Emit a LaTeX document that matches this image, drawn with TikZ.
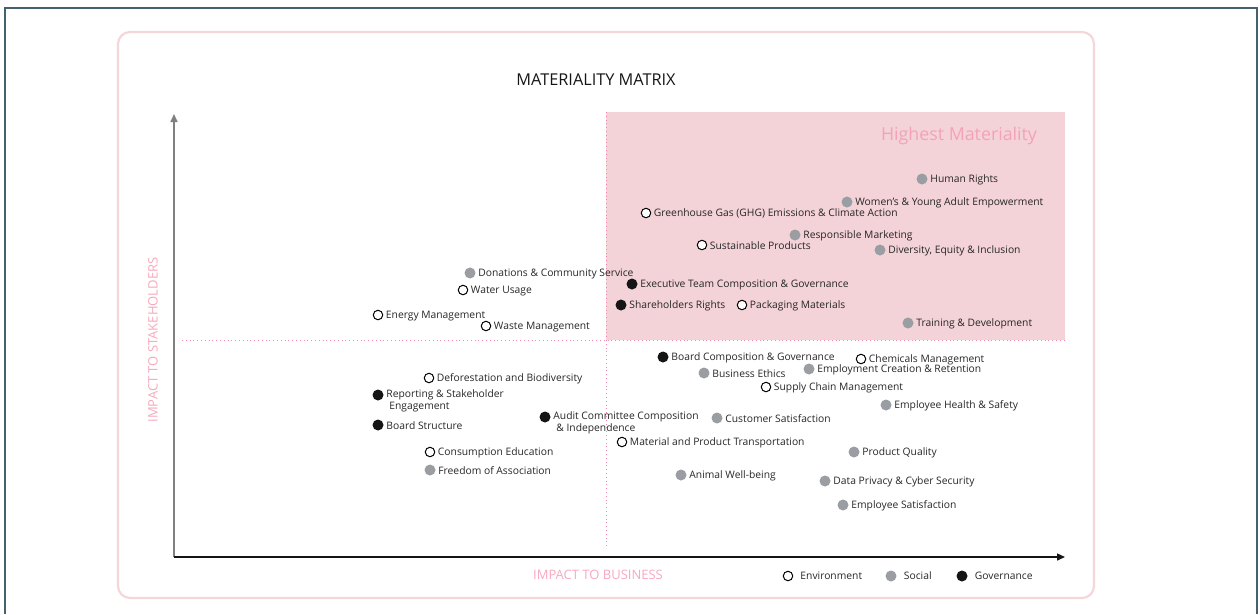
\documentclass[tikz,border=0pt]{standalone}
\usepackage{fontspec}
\setmainfont{Open Sans}
\usetikzlibrary{arrows.meta,positioning}

\definecolor{framegray}{HTML}{45616E}
\definecolor{framepink}{HTML}{F5D6DA}
\definecolor{zonepink}{HTML}{F3D3D7}
\definecolor{dotpink}{HTML}{F08AAE}
\definecolor{headpink}{HTML}{F4A2B8}
\definecolor{axispink}{HTML}{F7A8BE}
\definecolor{dotgray}{HTML}{9A9EA2}
\definecolor{dotblack}{HTML}{151515}
\definecolor{txtgray}{HTML}{262626}

\begin{document}
\begin{tikzpicture}[x=1pt,y=-1pt,
	txt/.style={font=\fontsize{10.3}{12}\selectfont, text=txtgray, inner sep=0pt},
	envdot/.style={circle, inner sep=0pt, minimum size=9.5pt, draw=black, line width=1pt, fill=white},
	socdot/.style={circle, inner sep=0pt, minimum size=11pt, fill=dotgray},
	govdot/.style={circle, inner sep=0pt, minimum size=11pt, fill=dotblack},
	tag/.style={label={[txt, xshift=2.5pt, yshift=-0.8pt]right:#1}},
	env/.style={envdot, tag={#1}},
	soc/.style={socdot, tag={#1}},
	gov/.style={govdot, tag={#1}},
	axislbl/.style={font=\fontsize{13}{15}\selectfont, text=axispink, inner sep=0pt}]
\useasboundingbox (0,0) rectangle (1260,614);

% frames
\draw[framegray, line width=2.7pt] (5,614) -- (5,8) -- (1257,8) -- (1257,614);
\draw[framepink, line width=2.2pt, rounded corners=12pt] (118,32) rectangle (1094,598);

% quadrants
\fill[zonepink] (606,112) rectangle (1065,340);
\draw[dotpink, line width=0.8pt, dash pattern=on 0.8pt off 3pt] (606,112) -- (606,548);
\draw[dotpink, line width=0.8pt, dash pattern=on 0.8pt off 3pt] (182,340) -- (1065,340);

% axes
\coordinate (o) at (174,557);
\coordinate (ytop) at (174,114);
\coordinate (xend) at (1065,557);
\draw[gray, line width=1.6pt, -{Triangle[length=8pt,width=7pt]}] (o) -- (ytop);
\draw[dotblack, line width=1.4pt, -{Triangle[length=8pt,width=7pt]}] (o) -- (xend);

\node[font=\fontsize{16.3}{18}\selectfont, text=dotblack] (title) at (596,80) {MATERIALITY MATRIX};
\node[font=\fontsize{17.8}{20}\selectfont, text=headpink] (high) at (959,136) {Highest Materiality};
\node[axislbl] (xlbl) at (598,575) {IMPACT TO BUSINESS};
\node[axislbl, rotate=90] (ylbl) at (153,340) {IMPACT TO STAKEHOLDERS};

% highest materiality
\node[soc={Human Rights}] (hr) at (922,179) {};
\node[soc={Women’s \& Young Adult Empowerment}] (wya) at (847,202) {};
\node[env={Greenhouse Gas (GHG) Emissions \& Climate Action}] (ghg) at (646,213) {};
\node[soc={Responsible Marketing}] (rm) at (795,235) {};
\node[env={Sustainable Products}] (sp) at (702,245) {};
\node[soc={Diversity, Equity \& Inclusion}] (dei) at (880,250) {};
\node[gov={Executive Team Composition \& Governance}] (etc) at (632,284) {};
\node[gov={Shareholders Rights}] (shr) at (621,305) {};
\node[env={Packaging Materials}] (pm) at (742,305) {};
\node[soc={Training \& Development}] (td) at (908,323) {};

% upper left
\node[soc={Donations \& Community Service}] (dcs) at (470,273) {};
\node[env={Water Usage}] (wu) at (463,290) {};
\node[env={Energy Management}] (em) at (378,315) {};
\node[env={Waste Management}] (wm) at (486,326) {};

% lower right
\node[gov={Board Composition \& Governance}] (bcg) at (663,357) {};
\node[env={Chemicals Management}] (cm) at (861,359) {};
\node[soc={Employment Creation \& Retention}] (ecr) at (809,369) {};
\node[soc={Business Ethics}] (be) at (704,373) {};
\node[env={Supply Chain Management}] (scm) at (766,387) {};
\node[soc={Employee Health \& Safety}] (ehs) at (886,405) {};
\node[soc={Customer Satisfaction}] (cs) at (717,418) {};
\node[env={Material and Product Transportation}] (mpt) at (622,442) {};
\node[soc={Product Quality}] (pq) at (854,452) {};
\node[soc={Animal Well-being}] (awb) at (681,475) {};
\node[soc={Data Privacy \& Cyber Security}] (dpc) at (825,481) {};
\node[soc={Employee Satisfaction}] (es) at (843,505) {};

% lower left
\node[env={Deforestation and Biodiversity}] (dfb) at (429,378) {};
\node[govdot] (rse) at (378,395) {};
\node[txt, align=left, anchor=north west] (rsetxt) at ([xshift=2.5pt,yshift=6pt]rse.east) {Reporting \& Stakeholder\\\hspace{3pt}Engagement};
\node[govdot] (acc) at (545,417) {};
\node[txt, align=left, anchor=north west] (acctxt) at ([xshift=2.5pt,yshift=6pt]acc.east) {Audit Committee Composition\\\hspace{3pt}\& Independence};
\node[gov={Board Structure}] (bs) at (378,425) {};
\node[env={Consumption Education}] (ce) at (430,452) {};
\node[soc={Freedom of Association}] (foa) at (430,470) {};

% legend
\node[envdot] (lenv) at (788,576) {};
\node[txt, right=7pt of lenv] (lenvtxt) {Environment};
\node[socdot] (lsoc) at (891,576) {};
\node[txt, right=7pt of lsoc] (lsoctxt) {Social};
\node[govdot] (lgov) at (962,576) {};
\node[txt, right=7pt of lgov] (lgovtxt) {Governance};
\end{tikzpicture}
\end{document}
